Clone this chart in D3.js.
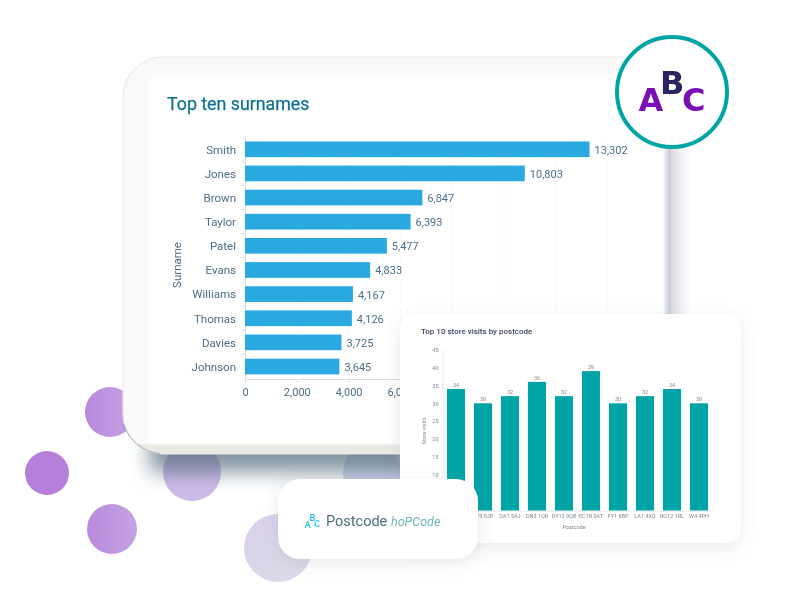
<!DOCTYPE html>
<html lang="en">
<head>
<meta charset="utf-8" />
<title>Top ten surnames</title>
<script src="https://d3js.org/d3.v7.min.js"></script>
<style>
    body, html { margin: 0; padding: 0; background: #fff; overflow: hidden; font-family: Roboto, sans-serif; }
    .main-axis text { font-size: 11px; fill: #4b6f86; font-family: Roboto, sans-serif; }
    .main-axis.names text { font-size: 11.5px; }
    .main-axis path, .main-axis line { stroke: #dcdfe1; }
    .small-axis text { font-size: 5.5px; fill: #7d8a94; font-family: Roboto, sans-serif; }
    .small-axis path, .small-axis line { stroke: #e3e7ea; }
</style>
</head>
<body>
<div id="chart"></div>
<script>
    const surnames = ["Smith", "Jones", "Brown", "Taylor", "Patel", "Evans", "Williams", "Thomas", "Davies", "Johnson"];
    const surnameCounts = [13302, 10803, 6847, 6393, 5477, 4833, 4167, 4126, 3725, 3645];
    const surnameTicks = [0, 2000, 4000, 6000];
    const surnameGrid = [2000, 4000, 6000, 8000, 10000, 12000, 14000];

    const postcodes = ["B1 1AA", "B73 9JP", "DA1 5AJ", "DN3 1QR", "DY13 9QB", "EC1R 0AT", "FY1 6BP", "LA1 4XQ", "RG12 1RL", "W4 4PH"];
    const storeVisits = [34, 30, 32, 36, 32, 39, 30, 32, 34, 30];
    const visitTicks = [0, 5, 10, 15, 20, 25, 30, 35, 40, 45];

    const svg = d3.select("#chart").append("svg")
        .attr("width", 800)
        .attr("height", 600)
        .style("display", "block");

    const defs = svg.append("defs");

    function addBlur(id, amount) {
        defs.append("filter").attr("id", id)
            .attr("x", "-30%").attr("y", "-30%").attr("width", "160%").attr("height", "160%")
            .append("feGaussianBlur").attr("stdDeviation", amount);
    }
    addBlur("shadowBlur", 10);
    addBlur("sideBlur", 8);
    addBlur("edgeBlur", 1.5);
    addBlur("soft", 0.25);
    addBlur("softer", 0.45);

    const cardShadow = defs.append("filter").attr("id", "cardShadow")
        .attr("x", "-20%").attr("y", "-20%").attr("width", "140%").attr("height", "150%");
    cardShadow.append("feDropShadow")
        .attr("dx", 0).attr("dy", 4)
        .attr("stdDeviation", 8)
        .attr("flood-color", "#5a6a7a")
        .attr("flood-opacity", 0.14);

    const purple = defs.append("linearGradient").attr("id", "purpleFade");
    purple.append("stop").attr("offset", "0%").attr("stop-color", "#b98ade");
    purple.append("stop").attr("offset", "100%").attr("stop-color", "#c5a2e2");

    const lilac = defs.append("linearGradient").attr("id", "lilacFade")
        .attr("x1", 0).attr("y1", 0).attr("x2", 1).attr("y2", 1);
    lilac.append("stop").attr("offset", "0%").attr("stop-color", "#d8cfea");
    lilac.append("stop").attr("offset", "100%").attr("stop-color", "#dcdce8");

    const rightEdge = defs.append("linearGradient").attr("id", "rightEdge");
    rightEdge.append("stop").attr("offset", "0%").attr("stop-color", "#fff");
    rightEdge.append("stop").attr("offset", "100%").attr("stop-color", "#b9bfc9");

    defs.append("clipPath").attr("id", "panelClip")
        .append("rect")
        .attr("x", 123).attr("y", 57).attr("width", 548).attr("height", 397)
        .attr("rx", 40);

    // background circles
    const blobs = [
        { x: 110, y: 412, r: 25, fill: "url(#purpleFade)" },
        { x: 47, y: 473, r: 22, fill: "#b67fdc" },
        { x: 112, y: 529, r: 25, fill: "url(#purpleFade)" },
        { x: 192, y: 472, r: 29, fill: "#cdb9e6" },
        { x: 278, y: 548, r: 34, fill: "url(#lilacFade)" },
        { x: 372, y: 472, r: 29, fill: "#d4d8ee" }
    ];
    svg.selectAll("circle.blob").data(blobs).enter().append("circle")
        .attr("class", "blob")
        .attr("cx", d => d.x).attr("cy", d => d.y).attr("r", d => d.r)
        .attr("fill", d => d.fill);

    // shadow under the tablet
    svg.append("rect")
        .attr("x", 150).attr("y", 400).attr("width", 530).attr("height", 72)
        .attr("fill", "#4f6a7c").attr("opacity", 0.72)
        .attr("filter", "url(#shadowBlur)");
    svg.append("rect")
        .attr("x", 640).attr("y", 110).attr("width", 38).attr("height", 350)
        .attr("fill", "#76808f").attr("opacity", 0.32)
        .attr("filter", "url(#sideBlur)");

    // tablet panel
    svg.append("rect")
        .attr("x", 123).attr("y", 57).attr("width", 548).attr("height", 397)
        .attr("rx", 40)
        .attr("fill", "#f8fafa")
        .attr("stroke", "#e4e8ea");
    const edges = svg.append("g").attr("clip-path", "url(#panelClip)");
    edges.append("rect")
        .attr("x", 662).attr("y", 57).attr("width", 10).attr("height", 397)
        .attr("fill", "url(#rightEdge)");
    edges.append("rect")
        .attr("x", 123).attr("y", 444).attr("width", 548).attr("height", 10)
        .attr("fill", "#e9e9e4");
    svg.append("path")
        .attr("d", "M123.8,424 A41,41 0 0 0 160,453.5")
        .attr("fill", "none")
        .attr("stroke", "#8b969c")
        .attr("stroke-width", 0.7);
    svg.append("rect")
        .attr("x", 148).attr("y", 78).attr("width", 514).attr("height", 366)
        .attr("rx", 6)
        .attr("fill", "#fff")
        .attr("filter", "url(#edgeBlur)");

    const main = svg.append("g").attr("filter", "url(#soft)");

    main.append("text")
        .attr("x", 167).attr("y", 110)
        .attr("font-size", 17.8)
        .attr("font-weight", 400)
        .attr("stroke", "#0f7390").attr("stroke-width", 0.25)
        .attr("fill", "#0f7390")
        .text("Top ten surnames");

    const mainX = d3.scaleLinear().domain([0, 14000]).range([245, 607.6]);
    const mainY = d3.scaleBand().domain(surnames).range([137.2, 378.6]).paddingInner(0.35).paddingOuter(0.175);

    main.append("g").selectAll("line").data(surnameGrid).enter().append("line")
        .attr("x1", d => mainX(d)).attr("x2", d => mainX(d))
        .attr("y1", 138).attr("y2", 379)
        .attr("stroke", "#fafafb");

    main.append("g").attr("class", "main-axis")
        .attr("transform", "translate(0,379)")
        .call(d3.axisBottom(mainX).tickValues(surnameTicks).tickFormat(d3.format(",")).tickSize(4).tickPadding(5));

    main.append("g").attr("class", "main-axis names")
        .attr("transform", "translate(245,0.6)")
        .call(d3.axisLeft(mainY).tickSize(0).tickPadding(9));

    // the ticks sit between the bands, not on the band centres
    main.append("g").selectAll("line").data(surnames).enter().append("line")
        .attr("x1", 241).attr("x2", 245)
        .attr("y1", d => mainY(d) - mainY.step() * mainY.paddingInner() / 2)
        .attr("y2", d => mainY(d) - mainY.step() * mainY.paddingInner() / 2)
        .attr("stroke", "#dcdfe1");

    main.append("g").selectAll("rect").data(surnames).enter().append("rect")
        .attr("x", mainX(0))
        .attr("y", d => mainY(d))
        .attr("width", (d, i) => mainX(surnameCounts[i]) - mainX(0))
        .attr("height", mainY.bandwidth())
        .attr("fill", "#29a9e1");

    main.append("g").selectAll("text").data(surnames).enter().append("text")
        .attr("x", (d, i) => mainX(surnameCounts[i]) + 5)
        .attr("y", d => mainY(d) + mainY.bandwidth() / 2 + 0.6)
        .attr("dy", "0.35em")
        .attr("font-size", 11)
        .attr("fill", "#4b6f86")
        .text((d, i) => d3.format(",")(surnameCounts[i]));

    main.append("text")
        .attr("transform", "translate(181,265) rotate(-90)")
        .attr("text-anchor", "middle")
        .attr("font-size", 11.5)
        .attr("fill", "#4b6f86")
        .text("Surname");

    // small store visits card
    svg.append("rect")
        .attr("x", 400).attr("y", 314).attr("width", 341).attr("height", 229)
        .attr("rx", 14)
        .attr("fill", "#fff")
        .attr("filter", "url(#cardShadow)");

    const small = svg.append("g").attr("filter", "url(#softer)");

    small.append("text")
        .attr("x", 421).attr("y", 334)
        .attr("font-size", 8).attr("font-weight", 500)
        .attr("fill", "#3d4460")
        .text("Top 10 store visits by postcode");

    const smallX = d3.scaleBand().domain(postcodes).range([442.5, 712.5]).paddingInner(0.33).paddingOuter(0.165);
    const smallY = d3.scaleLinear().domain([0, 45]).range([510.5, 349.7]);

    small.append("g").attr("class", "small-axis")
        .attr("transform", "translate(442.5,0)")
        .call(d3.axisLeft(smallY).tickValues(visitTicks).tickSize(0).tickPadding(4));

    small.append("g").attr("class", "small-axis")
        .attr("transform", "translate(0,510.5)")
        .call(d3.axisBottom(smallX).tickSize(0).tickPadding(4));

    small.append("g").selectAll("rect").data(postcodes).enter().append("rect")
        .attr("x", d => smallX(d))
        .attr("y", (d, i) => smallY(storeVisits[i]))
        .attr("width", smallX.bandwidth())
        .attr("height", (d, i) => smallY(0) - smallY(storeVisits[i]))
        .attr("fill", "#00a4a6");

    small.append("g").selectAll("text").data(postcodes).enter().append("text")
        .attr("x", d => smallX(d) + smallX.bandwidth() / 2)
        .attr("y", (d, i) => smallY(storeVisits[i]) - 2)
        .attr("text-anchor", "middle")
        .attr("font-size", 5.5)
        .attr("fill", "#7d8a94")
        .text((d, i) => storeVisits[i]);

    small.append("text")
        .attr("x", 574).attr("y", 529)
        .attr("text-anchor", "middle")
        .attr("font-size", 5.5)
        .attr("fill", "#7d8a94")
        .text("Postcode");

    small.append("text")
        .attr("transform", "translate(426,431) rotate(-90)")
        .attr("text-anchor", "middle")
        .attr("font-size", 5.5)
        .attr("fill", "#7d8a94")
        .text("Store visits");

    // postcode card
    svg.append("rect")
        .attr("x", 278).attr("y", 479).attr("width", 200).attr("height", 80)
        .attr("rx", 22)
        .attr("fill", "#fff")
        .attr("filter", "url(#cardShadow)");

    const icon = svg.append("g").attr("fill", "#22c4e8").attr("font-size", 9.5).attr("font-weight", 500);
    icon.append("text").attr("x", 304.5).attr("y", 528).text("A");
    icon.append("text").attr("x", 309.5).attr("y", 521).text("B");
    icon.append("text").attr("x", 314).attr("y", 527).text("C");

    svg.append("text")
        .attr("x", 326).attr("y", 526)
        .attr("font-size", 14.5)
        .attr("fill", "#47707a")
        .text("Postcode");
    svg.append("text")
        .attr("x", 391).attr("y", 526)
        .attr("font-size", 12.5)
        .attr("font-style", "italic")
        .attr("fill", "#6fb5bb")
        .text("hoPCode");

    // ABC badge
    svg.append("circle")
        .attr("cx", 672).attr("cy", 92).attr("r", 55)
        .attr("fill", "#fff")
        .attr("stroke", "#00a3a6")
        .attr("stroke-width", 4);

    const badge = svg.append("g")
        .attr("font-family", "'DejaVu Sans', sans-serif")
        .attr("font-weight", 700)
        .attr("font-size", 32);
    badge.append("text").attr("x", 638.5).attr("y", 111).attr("fill", "#7a0fb5").text("A");
    badge.append("text").attr("x", 660).attr("y", 94).attr("fill", "#2a2561").text("B");
    badge.append("text").attr("x", 682).attr("y", 111).attr("fill", "#7a0fb5").text("C");
</script>
</body>
</html>
